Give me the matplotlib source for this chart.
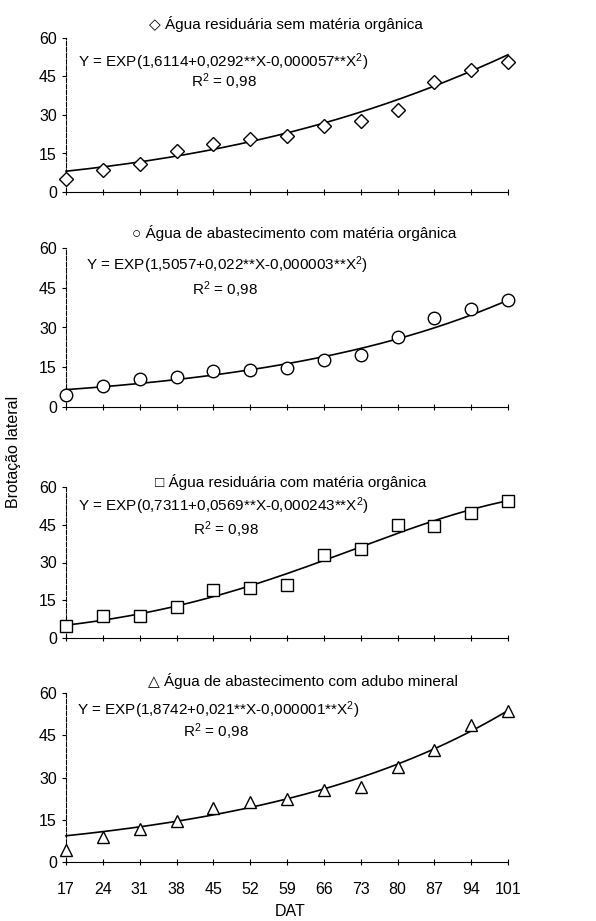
import numpy as np
import matplotlib
matplotlib.use("Agg")
import matplotlib.pyplot as plt

plt.rcParams['font.family'] = ['Liberation Sans', 'DejaVu Sans']
plt.rcParams['mathtext.fontset'] = 'custom'
plt.rcParams['mathtext.rm'] = 'Liberation Sans'
plt.rcParams['mathtext.it'] = 'Liberation Sans'

dat = [17, 24, 31, 38, 45, 52, 59, 66, 73, 80, 87, 94, 101]

titles = ["\u25c7 Água residuária sem matéria orgânica",
          "\u25cb Água de abastecimento com matéria orgânica",
          "\u25a1 Água residuária com matéria orgânica",
          "\u25b3 Água de abastecimento com adubo mineral"]
markers = ['D', 'o', 's', '^']

sem_mo = [5.0, 8.5, 10.8, 15.9, 18.7, 20.5, 21.8, 25.9, 27.7, 32.0, 42.9, 47.7, 50.5]
abast_mo = [4.7, 8.0, 10.4, 11.4, 13.4, 13.9, 14.8, 17.9, 19.7, 26.5, 33.5, 37.1, 40.2]
resid_mo = [4.9, 8.8, 8.8, 12.5, 19.1, 19.8, 21.0, 33.0, 35.2, 44.9, 44.5, 49.5, 54.5]
adubo = [4.3, 8.8, 11.6, 14.7, 19.2, 21.4, 22.3, 25.6, 26.8, 33.7, 39.9, 48.8, 53.7]
series = [sem_mo, abast_mo, resid_mo, adubo]

# printed regression coefficients: Y = exp(a + b*X - c*X^2)
coef_a = [1.6114, 1.5057, 0.7311, 1.8742]
coef_b = [0.0292, 0.022, 0.0569, 0.021]
coef_c = [0.000057, 0.000003, 0.000243, 0.000001]
eq_txt = ["Y = EXP(1,6114+0,0292**X-0,000057**X$^{2}$)",
          "Y = EXP(1,5057+0,022**X-0,000003**X$^{2}$)",
          "Y = EXP(0,7311+0,0569**X-0,000243**X$^{2}$)",
          "Y = EXP(1,8742+0,021**X-0,000001**X$^{2}$)"]

W, H = 596, 921
fig = plt.figure(figsize=(W / 100, H / 100), dpi=100)

# pixel boxes (bottom, top) of each panel
boxes = [(192, 38), (407, 248), (638, 487), (862, 693)]
title_pos = [(0.498, 1.09), (0.516, 1.094), (0.509, 1.03), (0.535, 1.07)]
eq_pos = [(0.027, 0.84), (0.045, 0.893), (0.027, 0.874), (0.025, 0.9)]
r2_pos = [(0.357, 0.714), (0.36, 0.736), (0.362, 0.72), (0.34, 0.77)]
msize = [7, 9, 9, 9]
fs = 11

xs = np.linspace(17, 101, 200)
for i in range(4):
    bot, top = boxes[i]
    ax = fig.add_axes([66 / W, 1 - bot / H, (508 - 66) / W, (bot - top) / H])
    fit = np.exp(coef_a[i] + coef_b[i] * xs - coef_c[i] * xs ** 2)
    ax.plot(xs, fit, color='black', lw=1.2, clip_on=False)
    ax.plot(dat, series[i], linestyle='none', marker=markers[i], ms=msize[i],
            mfc='white', mec='black', mew=1.0, clip_on=False, zorder=3)
    ax.set_xlim(17, 101)
    ax.set_ylim(0, 60)
    ax.set_yticks([0, 15, 30, 45, 60])
    ax.set_xticks(dat)
    ax.spines['top'].set_visible(False)
    ax.spines['right'].set_visible(False)
    ax.spines['left'].set_linestyle((0, (4, 1.5)))
    ax.tick_params(axis='both', labelsize=11.5, length=3, width=0.8)
    ax.tick_params(axis='x', direction='inout', length=5)
    if i < 3:
        ax.set_xticklabels([])
    else:
        ax.tick_params(axis='x', pad=12)
    ax.text(title_pos[i][0], title_pos[i][1], titles[i], transform=ax.transAxes,
            ha='center', va='center', fontsize=fs)
    ax.text(eq_pos[i][0], eq_pos[i][1], eq_txt[i], transform=ax.transAxes,
            ha='left', va='center', fontsize=fs)
    ax.text(r2_pos[i][0], r2_pos[i][1], "R$^{2}$ = 0,98", transform=ax.transAxes,
            ha='center', va='center', fontsize=fs)

fig.text(290 / W, 1 - 911 / H, "DAT", ha='center', va='center', fontsize=11.5)
fig.text(14 / W, 1 - 452 / H, "Brotação lateral", rotation=90,
         ha='center', va='center', fontsize=11.5)

fig.savefig("out.png", dpi=100)
